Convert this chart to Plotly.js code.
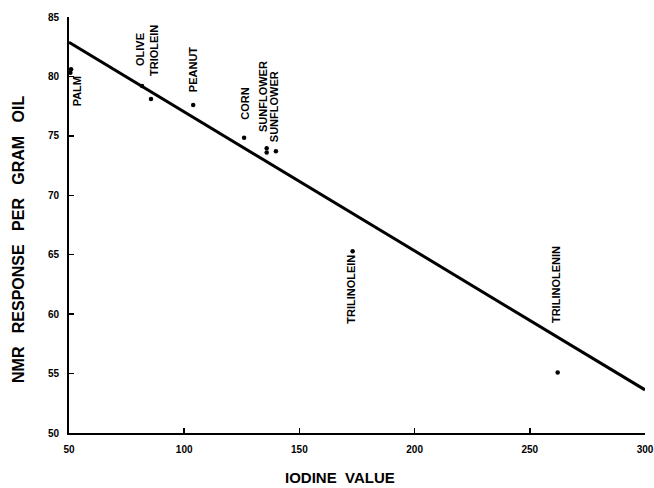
<!DOCTYPE html>
<html>
<head>
<meta charset="utf-8">
<script src="https://cdn.plot.ly/plotly-3.0.1.min.js"></script>
<style>
  html, body { margin: 0; padding: 0; background: #fff; }
  #chart { width: 654px; height: 488px; }
</style>
</head>
<body>
<div id="chart"></div>
<script>
// ---- data ----
const iodineValue = [50.9, 50.6, 81.7, 85.6, 103.9, 126.0, 135.8, 135.8, 139.8, 173.1, 262.1];
const nmrResponse = [80.6, 80.3, 79.2, 78.1, 77.6, 74.85, 73.95, 73.6, 73.7, 65.3, 55.1];
const oilName = ['PALM', 'PALM', 'OLIVE', 'TRIOLEIN', 'PEANUT', 'CORN', 'SUNFLOWER', 'SUNFLOWER', 'SUNFLOWER', 'TRILINOLEIN', 'TRILINOLENIN'];

const labelText = ['PALM', 'OLIVE', 'TRIOLEIN', 'PEANUT', 'CORN', 'SUNFLOWER', 'SUNFLOWER', 'TRILINOLEIN', 'TRILINOLENIN'];
const labelPoint = [0, 2, 3, 4, 5, 6, 8, 9, 10];

const fitIodine = [50, 300];
const fitNmr = [82.87, 53.63];

const xTicks = [50, 100, 150, 200, 250, 300];
const yTicks = [50, 55, 60, 65, 70, 75, 80, 85];

const xTitle = 'IODINE\u00a0\u00a0VALUE';
const yTitle = 'NMR\u00a0\u00a0\u00a0RESPONSE\u00a0\u00a0\u00a0PER\u00a0\u00a0\u00a0GRAM\u00a0\u00a0\u00a0OIL';

// ---- styling ----
const FONT = 'Liberation Sans, Arial, Helvetica, sans-serif';
// label offsets from their point, in screen pixels [dx right, dy down]
const labelOffset = [[6, 22], [-2, -36], [3, -48], [0, -36], [1, -34], [-3, -52], [-2, -45], [-1, 38], [-1, -88]];

const traces = [
  {
    x: fitIodine, y: fitNmr, type: 'scatter', mode: 'lines',
    line: { color: '#000', width: 3 }, hoverinfo: 'skip', showlegend: false
  },
  {
    x: iodineValue, y: nmrResponse, text: oilName, type: 'scatter', mode: 'markers',
    marker: { color: '#000', size: 4.5 }, cliponaxis: false, showlegend: false
  }
];

const annotations = labelText.map((t, i) => ({
  x: iodineValue[labelPoint[i]], y: nmrResponse[labelPoint[i]],
  xref: 'x', yref: 'y', text: t, showarrow: false, textangle: -90,
  xanchor: 'center', yanchor: 'middle',
  xshift: labelOffset[i][0], yshift: -labelOffset[i][1],
  font: { family: FONT, size: 11, color: '#000', weight: 'bold' }
}));

annotations.push({
  xref: 'paper', yref: 'paper', x: 0.4705, y: -0.108, text: xTitle, showarrow: false,
  xanchor: 'center', yanchor: 'middle',
  font: { family: FONT, size: 15, color: '#000', weight: 'bold' }
});
annotations.push({
  xref: 'paper', yref: 'paper', x: -0.0868, y: 0.464, text: yTitle, showarrow: false,
  textangle: -90, xanchor: 'center', yanchor: 'middle',
  font: { family: FONT, size: 16, color: '#000', weight: 'bold' }
});

const layout = {
  width: 654, height: 488,
  margin: { l: 69, r: 9, t: 17, b: 55 },
  paper_bgcolor: '#fff', plot_bgcolor: '#fff',
  font: { family: FONT, color: '#000', weight: 'bold', size: 10 },
  showlegend: false,
  xaxis: {
    range: [50, 300], tickvals: xTicks, ticktext: xTicks.map(String),
    showgrid: false, zeroline: false, showline: true, linecolor: '#000', linewidth: 2,
    ticks: 'inside', ticklen: 5, tickwidth: 1.5, tickcolor: '#000',
    ticklabelstandoff: 6,
    tickfont: { family: FONT, size: 10, color: '#000', weight: 'bold' },
    title: { text: '' }
  },
  yaxis: {
    range: [50, 85], tickvals: yTicks, ticktext: yTicks.map(String),
    showgrid: false, zeroline: false, showline: true, linecolor: '#000', linewidth: 2,
    ticks: 'inside', ticklen: 5, tickwidth: 1.5, tickcolor: '#000',
    ticklabelstandoff: 6,
    tickfont: { family: FONT, size: 10, color: '#000', weight: 'bold' },
    title: { text: '' }
  },
  annotations: annotations
};

Plotly.newPlot('chart', traces, layout, { displayModeBar: false, staticPlot: true });
</script>
</body>
</html>
